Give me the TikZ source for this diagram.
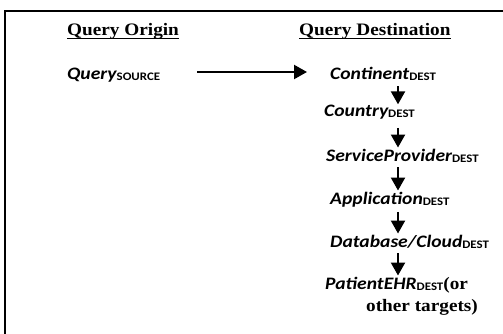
\documentclass[tikz,border=0pt]{standalone}
\usepackage{fontspec}
\setmainfont{Liberation Serif}
\newfontfamily\headf[FakeStretch=1.1]{Liberation Serif}
\newfontfamily\lab[FakeStretch=1.12]{Carlito}
\usetikzlibrary{arrows.meta}
\newcommand{\sub}[1]{\raisebox{-1pt}{\fontsize{11.5}{11.5}\selectfont\bfseries\upshape #1}}
\tikzset{
  head/.style={inner sep=0pt, anchor=base west, font=\fontsize{17.5}{20}\selectfont\headf\bfseries},
  lbl/.style={inner sep=0pt, anchor=base west, font=\fontsize{17.5}{20}\selectfont\lab\bfseries\itshape},
  flow/.style={line width=2.2pt, -{Triangle[length=13pt,width=14pt]}},
  frame/.style={line width=2pt}
}
\begin{document}
\begin{tikzpicture}[x=1pt,y=-1pt]
\useasboundingbox (0,0) rectangle (503,334);
\fill[white] (0,0) rectangle (503,334);
\draw[frame] (5,334) -- (5,11) -- (503,11);
\node[head] (h1) at (67,36) {Query Origin};
\node[head] (h2) at (299,36) {Query Destination};
\draw[line width=1pt] ([yshift=-2.5pt]h1.base west) -- ([yshift=-2.5pt]h1.base east);
\draw[line width=1pt] ([yshift=-2.5pt]h2.base west) -- ([yshift=-2.5pt]h2.base east);
\node[lbl] (src) at (67,80) {Query\sub{SOURCE}};
\node[lbl] (cont) at (330,80) {Continent\sub{DEST}};
\node[lbl] (ctry) at (324,117) {Country\sub{DEST}};
\node[lbl] (sp) at (326,161) {ServiceProvider\sub{DEST}};
\node[lbl] (app) at (330,204) {Application\sub{DEST}};
\node[lbl] (db) at (330,247) {Database/Cloud\sub{DEST}};
\node[lbl] (pat) at (325,289) {PatientEHR\sub{DEST}\headf\bfseries\upshape(or};
\node[head] (oth) at (366,311) {other targets)};
\coordinate (ax) at (398,0);
\draw[flow] ([shift={(197,-8)}]src.base west -| 0,0) -- ([shift={(-23,-8)}]cont.base west);
\draw[flow] ([yshift=-5pt]cont.south -| ax) -- ([yshift=1pt]ctry.north -| ax);
\draw[flow] ([yshift=-8pt]ctry.south -| ax) -- ([yshift=1pt]sp.north -| ax);
\draw[flow] ([yshift=-5pt]sp.south -| ax) -- ([yshift=1pt]app.north -| ax);
\draw[flow] ([yshift=-5pt]app.south -| ax) -- ([yshift=1pt]db.north -| ax);
\draw[flow] ([yshift=-5pt]db.south -| ax) -- ([yshift=1pt]pat.north -| ax);
\end{tikzpicture}
\end{document}
